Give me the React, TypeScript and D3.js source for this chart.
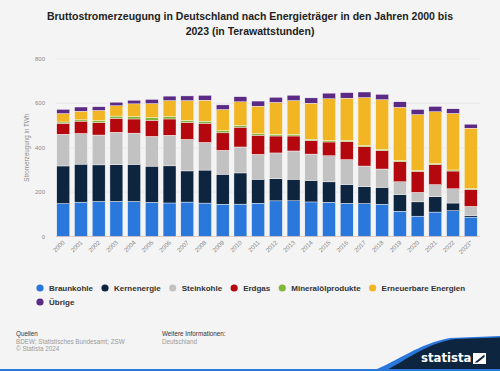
import * as d3 from 'd3'

const years = ['2000', '2001', '2002', '2003', '2004', '2005', '2006', '2007', '2008', '2009', '2010', '2011',
  '2012', '2013', '2014', '2015', '2016', '2017', '2018', '2019', '2020', '2021', '2022', '2023*']

const braunkohle = [148.3, 154.8, 158.0, 158.2, 158.0, 154.1, 151.1, 155.1, 150.6, 145.6, 145.9, 150.1,
  160.7, 160.9, 155.8, 154.5, 149.5, 148.4, 145.6, 114.0, 91.7, 110.1, 116.2, 87.4]
const kernenergie = [169.6, 171.3, 164.8, 165.1, 167.1, 163.0, 167.3, 140.5, 148.8, 134.9, 140.6, 108.0,
  99.5, 97.3, 97.1, 91.8, 84.9, 76.3, 76.0, 75.1, 64.4, 69.1, 34.7, 7.2]
const steinkohle = [143.1, 138.4, 134.6, 146.5, 140.8, 134.1, 137.9, 142.0, 124.6, 107.9, 117.0, 112.4,
  116.4, 127.3, 118.6, 117.7, 112.2, 92.9, 82.6, 57.5, 42.8, 54.6, 64.4, 41.1]
const erdgas = [49.2, 55.5, 56.3, 62.9, 63.8, 72.7, 73.4, 76.0, 86.7, 78.8, 89.3, 86.1,
  76.4, 67.5, 61.1, 62.0, 81.3, 86.7, 82.5, 90.5, 94.7, 90.3, 79.8, 76.2]
const mineraloel = [5.9, 5.8, 8.7, 9.9, 10.2, 11.6, 10.5, 9.6, 9.2, 9.6, 8.7, 6.8,
  7.6, 7.2, 5.7, 6.2, 5.8, 5.6, 5.2, 4.8, 4.7, 4.6, 4.8, 3.9]
const erneuerbare = [37.9, 38.8, 45.6, 46.7, 58.0, 63.4, 72.5, 89.4, 94.3, 95.4, 105.6, 124.0,
  143.8, 152.4, 162.5, 188.8, 189.7, 216.3, 224.8, 240.3, 251.2, 233.6, 254.7, 272.4]
const uebrige = [19, 19, 17, 16, 16, 19, 20, 21, 22, 21, 23, 23,
  23, 24, 24, 25, 25, 25, 24, 25, 23, 24, 21, 18]

const seriesNames = ['Braunkohle', 'Kernenergie', 'Steinkohle', 'Erdgas', 'Mineralölprodukte', 'Erneuerbare Energien', 'Übrige']
const seriesValues = [braunkohle, kernenergie, steinkohle, erdgas, mineraloel, erneuerbare, uebrige]
const colors = ['#2b78dc', '#0e2540', '#c2c2c2', '#b4080e', '#80b63a', '#f2b625', '#5a2a84']
const yTicks = [0, 200, 400, 600, 800]

const W = 500
const H = 371
const FONT = 'Liberation Sans, Arial, sans-serif'

let ctx: CanvasRenderingContext2D | null = null
function textWidth(t: string, font: string) {
  if (!ctx) ctx = document.createElement('canvas').getContext('2d')
  if (!ctx) return t.length * 4.5
  ctx.font = font
  return ctx.measureText(t).width
}

export default function App() {
  const rows = years.map((y, i) => {
    const r: any = { year: y }
    seriesNames.forEach((n, k) => { r[n] = seriesValues[k][i] })
    return r
  })
  const stack = d3.stack().keys(seriesNames)(rows)

  const x = d3.scaleBand().domain(years).range([55, 479]).paddingInner(0.27).paddingOuter(0.1)
  const y = d3.scaleLinear().domain([0, 800]).range([236.5, 59])

  // legend layout
  const legendFont = `bold 8px ${FONT}`
  const legend: { name: string; color: string; cx: number; cy: number }[] = []
  let lx = 40
  let ly = 288
  seriesNames.forEach((n, i) => {
    const w = textWidth(n, legendFont)
    if (lx + 9 + w > 470) { lx = 40; ly += 14 }
    legend.push({ name: n, color: colors[i], cx: lx, cy: ly })
    lx += 9 + w + 12
  })

  return (
    <svg width={W} height={H} style={{ position: 'absolute', left: 0, top: 0, fontFamily: FONT }}>
      <rect width={W} height={H} fill="#f4f4f4" />

      <text x={250} y={20} textAnchor="middle" fontSize={10.5} fontWeight="bold" fill="#222">
        Bruttostromerzeugung in Deutschland nach Energieträger in den Jahren 2000 bis
      </text>
      <text x={250} y={35} textAnchor="middle" fontSize={10.5} fontWeight="bold" fill="#222">
        2023 (in Terawattstunden)
      </text>

      {yTicks.map(t => (
        <g key={t}>
          <line x1={56} x2={480} y1={y(t)} y2={y(t)} stroke="#e2e2e2" strokeWidth={0.6} />
          <text x={45} y={y(t) + 2} textAnchor="end" fontSize={6} fill="#8a8a8a">{t}</text>
        </g>
      ))}
      <text transform={`translate(29,${y(400) + 0}) rotate(-90)`} textAnchor="middle" fontSize={6.3} fill="#8a8a8a">
        Stromerzeugung in TWh
      </text>

      {stack.map((s, k) => (
        <g key={s.key} fill={colors[k]}>
          {s.map((d, i) => (
            <rect key={i} x={x(years[i])} width={x.bandwidth()} y={y(d[1])} height={Math.max(0, y(d[0]) - y(d[1]))}
              stroke="#ffffff" strokeWidth={0.4} />
          ))}
        </g>
      ))}
      <line x1={56} x2={480} y1={y(0)} y2={y(0)} stroke="#d8b0a8" strokeWidth={0.6} />

      {years.map(yr => (
        <text key={yr} transform={`translate(${(x(yr) ?? 0) + x.bandwidth() / 2 + 2},${243}) rotate(-45)`}
          textAnchor="end" fontSize={6.2} fill="#8a8a8a">{yr}</text>
      ))}

      {legend.map(l => (
        <g key={l.name}>
          <circle cx={l.cx} cy={l.cy} r={3.6} fill={l.color} />
          <text x={l.cx + 9} y={l.cy + 2.8} fontSize={8} fontWeight="bold" fill="#333">{l.name}</text>
        </g>
      ))}

      <text x={16} y={336} fontSize={6.3} fill="#333">Quellen</text>
      <text x={16} y={343.5} fontSize={6.3} fill="#9a9a9a">BDEW; Statistisches Bundesamt; ZSW</text>
      <text x={16} y={351} fontSize={6.3} fill="#9a9a9a">© Statista 2024</text>
      <text x={162} y={336} fontSize={6.3} fill="#333">Weitere Informationen:</text>
      <text x={162} y={343.5} fontSize={6.3} fill="#9a9a9a">Deutschland</text>

      <path d="M372,371 C400,360 418,344 450,338 L500,336 L500,371 Z" fill="#2b78dc" />
      <path d="M385,371 C410,358 425,344 455,339 L500,337.5 L500,371 Z" fill="#0e2540" />
      <rect x={0} y={369} width={W} height={2} fill="#2b78dc" />
      <text x={421} y={362} fontSize={13} fontWeight="bold" fill="#ffffff" style={{ fontFamily: 'DejaVu Sans Condensed, Liberation Sans Narrow, sans-serif' }}>statista</text>
      <path d="M473,353 L486,353 L486,364 L473,364 Z M475,362 L484,355" fill="#ffffff" />
      <path d="M474.5,362.5 L484.5,354.5 L484.5,357 L477.5,362.5 Z" fill="#0e2540" />
    </svg>
  )
}
